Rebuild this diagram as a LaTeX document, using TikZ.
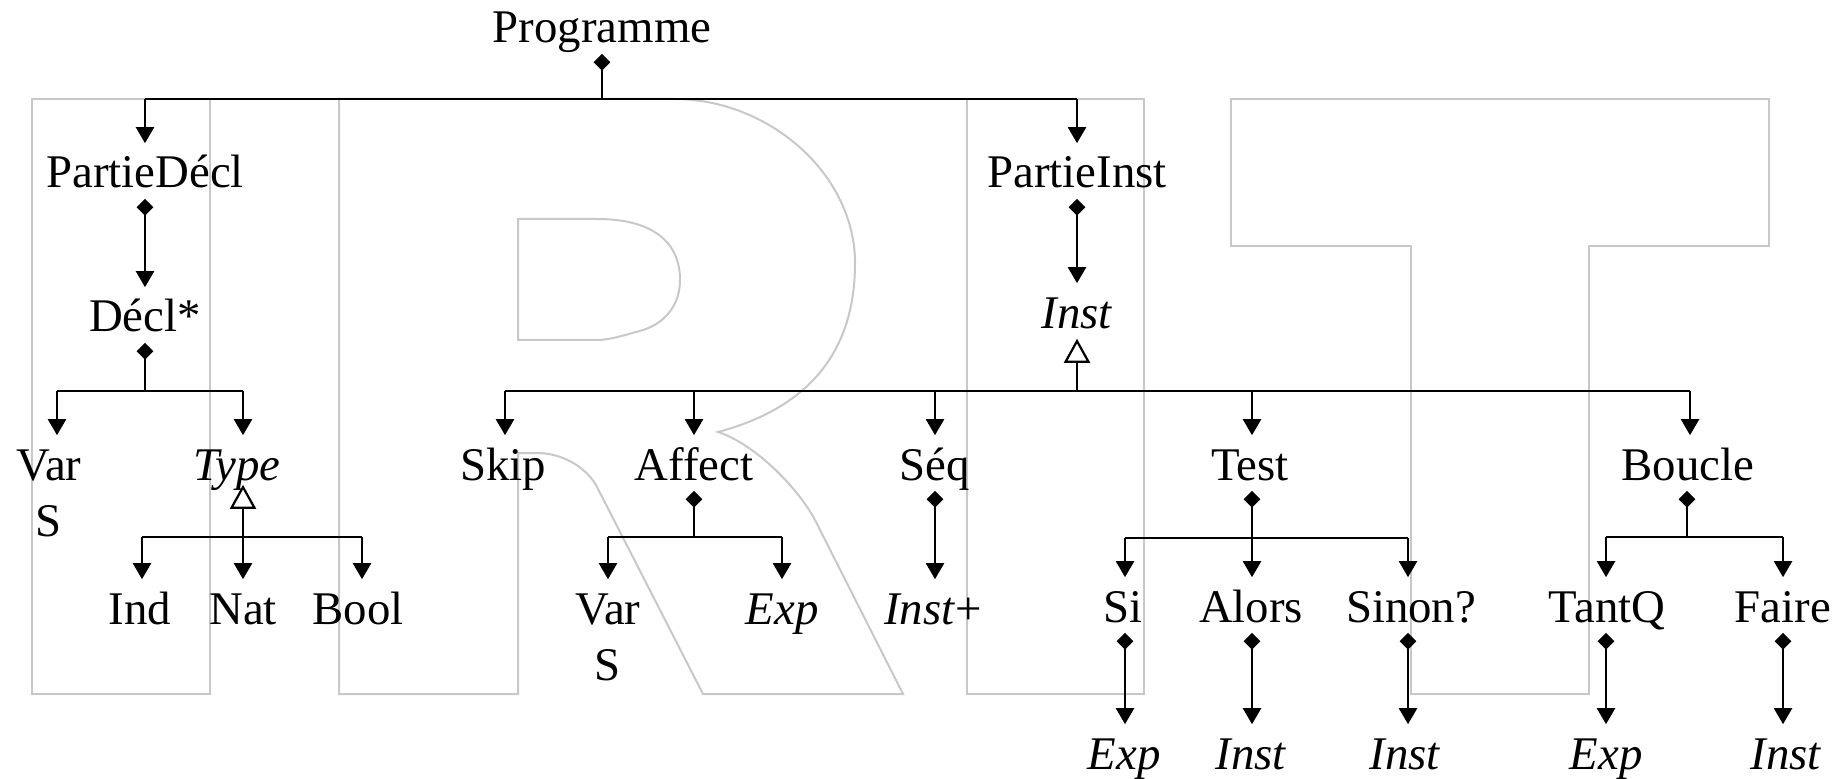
\documentclass[tikz,border=0pt]{standalone}
\usepackage{fontspec}
\setmainfont{Liberation Serif}
\usetikzlibrary{arrows.meta}
\definecolor{logogray}{RGB}{200,200,200}

\begin{document}
\begin{tikzpicture}[x=0.25pt,y=-0.25pt,
  lbl/.style={inner sep=0pt,anchor=base,text height=11pt,text depth=2.5pt,
    font=\fontsize{11.7}{14}\selectfont},
  logo/.style={draw=logogray,line width=0.5pt},
  bus/.style={draw=black,line width=0.7pt},
  arr/.style={draw=black,line width=0.55pt,-{Triangle[length=4pt,width=4.5pt]}},
  comp/.style={draw=black,line width=0.55pt,{Diamond[length=4.2pt,width=4.2pt]}-},
  link/.style={draw=black,line width=0.55pt,
    {Diamond[length=4.2pt,width=4.2pt]}-{Triangle[length=4pt,width=4.5pt]}},
  gen/.style={draw=black,line width=0.55pt,-{Triangle[open,length=6pt,width=6.5pt,fill=white]}}]
\useasboundingbox (0,0) rectangle (1847,779);
% objects at depth 100:
\path[logo] (32,99) rectangle (210,694);
\path[logo] (339,99) -- (674,99) .. controls (770,99) and (855,175) .. (855,263)
  .. controls (855,360) and (800,410) .. (718,432)
  .. controls (755,444) and (798,488) .. (815,520) -- (903,694) -- (703,694) -- (596,485)
  .. controls (584,465) and (560,453) .. (537,453) -- (518,453) -- (518,694) -- (339,694) -- cycle;
\path[logo] (518,219) -- (597,219) .. controls (650,219) and (680,240) .. (680,280)
  .. controls (680,305) and (665,323) .. (643,330)
  .. controls (625,335) and (610,340) .. (597,340) -- (518,340) -- cycle;
\path[logo] (967,99) rectangle (1144,694);
\path[logo] (1231,99) -- (1769,99) -- (1769,246) -- (1589,246) -- (1589,694)
  -- (1411,694) -- (1411,246) -- (1231,246) -- cycle;
% objects at depth 50:
\node[lbl] (prog) at (602,43) {Programme};
\node[lbl] (pdecl) at (145,188) {PartieDécl};
\node[lbl] (decl) at (145,332) {Décl*};
\node[lbl] (var1) at (49,480) {\begin{tabular}[t]{@{}c@{}}Var\\S\end{tabular}};
\node[lbl] (type) at (237,480) {\textit{Type}};
\node[lbl] (ind) at (140,624) {Ind};
\node[lbl] (nat) at (243,624) {Nat};
\node[lbl] (bool) at (358,624) {Bool};
\node[lbl] (pinst) at (1077,188) {PartieInst};
\node[lbl] (inst) at (1077,328) {\textit{Inst}};
\node[lbl] (skip) at (503,480) {Skip};
\node[lbl] (affect) at (694,480) {Affect};
\node[lbl] (seq) at (935,480) {Séq};
\node[lbl] (test) at (1250,480) {Test};
\node[lbl] (boucle) at (1688,480) {Boucle};
\node[lbl] (var2) at (608,624) {\begin{tabular}[t]{@{}c@{}}Var\\S\end{tabular}};
\node[lbl] (exp1) at (782,624) {\textit{Exp}};
\node[lbl] (instp) at (933,624) {\textit{Inst}+};
\node[lbl] (si) at (1123,622) {Si};
\node[lbl] (alors) at (1251,622) {Alors};
\node[lbl] (sinon) at (1411,622) {Sinon?};
\node[lbl] (tantq) at (1607,622) {TantQ};
\node[lbl] (faire) at (1783,622) {Faire};
\node[lbl] (exp2) at (1124,769) {\textit{Exp}};
\node[lbl] (inst2) at (1251,769) {\textit{Inst}};
\node[lbl] (inst3) at (1405,769) {\textit{Inst}};
\node[lbl] (exp3) at (1606,769) {\textit{Exp}};
\node[lbl] (inst4) at (1786,769) {\textit{Inst}};
% bus lines
\coordinate (pbus) at (602,99);
\coordinate (dbus) at (145,391);
\coordinate (dbusL) at (57,391);
\coordinate (dbusR) at (243,391);
\coordinate (tbus) at (243,537);
\coordinate (tbusL) at (142,537);
\coordinate (tbusR) at (362,537);
\coordinate (ibus) at (1077,391);
\coordinate (ibusL) at (505,391);
\coordinate (ibusR) at (1690,391);
\coordinate (abus) at (694,537);
\coordinate (sbus) at (1252,538);
\coordinate (sbusL) at (1125,538);
\coordinate (sbusR) at (1408,538);
\coordinate (bbus) at (1687,537);
\coordinate (bbusL) at (1606,537);
\coordinate (bbusR) at (1783,537);
% Programme
\draw[comp] (prog) -- (pbus);
\path[bus] (pdecl |- pbus) -- (pinst |- pbus);
\draw[arr] (pdecl |- pbus) -- (pdecl);
\draw[arr] (pinst |- pbus) -- (pinst);
% declarations
\draw[link] (pdecl) -- (decl);
\draw[comp] (decl) -- (dbus);
\path[bus] (dbusL) -- (dbusR);
\draw[arr] (dbusL) -- (dbusL |- var1.north);
\draw[arr] (dbusR) -- (dbusR |- type.north);
\path[bus] (tbusL) -- (tbusR);
\draw[gen] (tbus) -- ([yshift=1.5pt]tbus |- type.south);
\draw[arr] (tbusL) -- (tbusL |- ind.north);
\draw[arr] (tbus) -- (nat);
\draw[arr] (tbusR) -- (tbusR |- bool.north);
% instructions
\draw[link] (pinst) -- (inst);
\path[bus] (ibusL) -- (ibusR);
\draw[gen] (ibus) -- (inst);
\draw[arr] (ibusL) -- (ibusL |- skip.north);
\draw[arr] (affect |- ibus) -- (affect);
\draw[arr] (seq |- ibus) -- (seq);
\draw[arr] (sbus |- ibus) -- (sbus |- test.north);
\draw[arr] (ibusR) -- (ibusR |- boucle.north);
% Affect
\draw[comp] (affect) -- (abus);
\path[bus] (var2 |- abus) -- (exp1 |- abus);
\draw[arr] (var2 |- abus) -- (var2);
\draw[arr] (exp1 |- abus) -- (exp1);
% Seq
\draw[link] (seq) -- (seq |- instp.north);
% Test
\draw[comp] (sbus |- test.south) -- (sbus);
\path[bus] (sbusL) -- (sbusR);
\draw[arr] (sbusL) -- (sbusL |- si.north);
\draw[arr] (sbus) -- (sbus |- alors.north);
\draw[arr] (sbusR) -- (sbusR |- sinon.north);
\draw[link] (sbusL |- si.south) -- (sbusL |- exp2.north);
\draw[link] (sbus |- alors.south) -- (sbus |- inst2.north);
\draw[link] (sbusR |- sinon.south) -- (sbusR |- inst3.north);
% Boucle
\draw[comp] (bbus |- boucle.south) -- (bbus);
\path[bus] (bbusL) -- (bbusR);
\draw[arr] (bbusL) -- (bbusL |- tantq.north);
\draw[arr] (bbusR) -- (bbusR |- faire.north);
\draw[link] (bbusL |- tantq.south) -- (bbusL |- exp3.north);
\draw[link] (bbusR |- faire.south) -- (bbusR |- inst4.north);
\end{tikzpicture}
\end{document}
